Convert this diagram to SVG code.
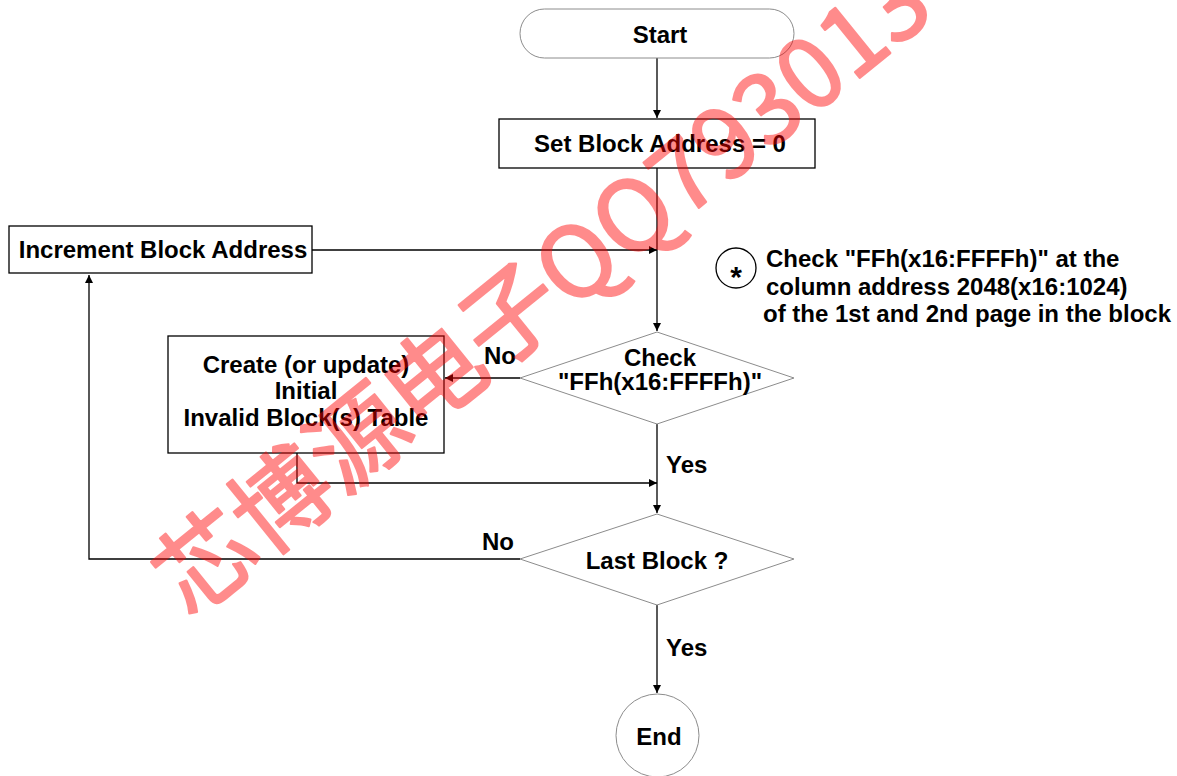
<svg xmlns="http://www.w3.org/2000/svg" width="1177" height="776" viewBox="0 0 1177 776">
  <style>
    .box { fill: #fff; stroke: #000; stroke-width: 1.3; }
    .soft { fill: #fff; stroke: #8c8c8c; stroke-width: 1; }
    .lbl { font-family: "Liberation Sans", Arial, sans-serif; font-weight: bold; font-size: 24px; fill: #000; }
    .mid { text-anchor: middle; }
    .wire { fill: none; stroke: #000; stroke-width: 1.3; }
    .mark { font-family: "Noto Sans CJK SC", "Liberation Sans", sans-serif; font-weight: normal; font-size: 98px; fill: #ff0000; stroke: #ff0000; stroke-width: 2.2; stroke-linejoin: round; }
  </style>
  <defs>
    <marker id="arrow" viewBox="0 0 10 10" refX="10" refY="5" markerWidth="8" markerHeight="8" markerUnits="userSpaceOnUse" orient="auto">
      <path d="M0,0 L10,5 L0,10 Z" fill="#000"/>
    </marker>
  </defs>
  <rect width="1177" height="776" fill="#fff"/>

  <!-- connectors -->
  <g id="connectors">
    <line class="wire" x1="657" y1="58" x2="657" y2="118" marker-end="url(#arrow)"/>
    <line class="wire" x1="657" y1="168" x2="657" y2="331" marker-end="url(#arrow)"/>
    <line class="wire" x1="312" y1="250" x2="657" y2="250" marker-end="url(#arrow)"/>
    <line class="wire" x1="520" y1="378" x2="445" y2="378" marker-end="url(#arrow)"/>
    <polyline class="wire" points="297,453 297,483 657,483" marker-end="url(#arrow)"/>
    <line class="wire" x1="657" y1="424" x2="657" y2="513" marker-end="url(#arrow)"/>
    <polyline class="wire" points="520,559 89,559 89,275" marker-end="url(#arrow)"/>
    <line class="wire" x1="657" y1="605" x2="657" y2="693" marker-end="url(#arrow)"/>
    <text class="lbl" x="484" y="364">No</text>
    <text class="lbl" x="666" y="473">Yes</text>
    <text class="lbl" x="482" y="550">No</text>
    <text class="lbl" x="666" y="656">Yes</text>
  </g>

  <!-- nodes -->
  <g id="start">
    <rect class="soft" x="520" y="9" width="274" height="49" rx="24.5" ry="24.5"/>
    <text class="lbl mid" x="660" y="43">Start</text>
  </g>
  <g id="set-address">
    <rect class="box" x="499" y="119" width="316" height="49"/>
    <text class="lbl mid" x="660" y="152">Set Block Address = 0</text>
  </g>
  <g id="increment">
    <rect class="box" x="9" y="226" width="303" height="47"/>
    <text class="lbl mid" x="163" y="258">Increment Block Address</text>
  </g>
  <g id="note">
    <circle cx="736" cy="268" r="20" fill="#fff" stroke="#000" stroke-width="1.3"/>
    <text class="lbl mid" x="736" y="287" style="font-size:30px">*</text>
    <text class="lbl" x="766" y="267">Check "FFh(x16:FFFFh)" at the</text>
    <text class="lbl" x="766" y="295">column address 2048(x16:1024)</text>
    <text class="lbl" x="763" y="322">of the 1st and 2nd page in the block</text>
  </g>
  <g id="check-ff">
    <polygon class="soft" points="657,332 794,378 657,424 520,378"/>
    <text class="lbl mid" x="660" y="366">Check</text>
    <text class="lbl mid" x="660" y="390">"FFh(x16:FFFFh)"</text>
  </g>
  <g id="invalid-table">
    <rect class="box" x="168" y="336" width="276" height="117"/>
    <text class="lbl mid" x="306" y="373">Create (or update)</text>
    <text class="lbl mid" x="306" y="399">Initial</text>
    <text class="lbl mid" x="306" y="426">Invalid Block(s) Table</text>
  </g>
  <g id="last-block">
    <polygon class="soft" points="657,514 794,559 657,605 520,559"/>
    <text class="lbl mid" x="657" y="569">Last Block ?</text>
  </g>
  <g id="end">
    <circle class="soft" cx="657.5" cy="735.5" r="41.5"/>
    <text class="lbl mid" x="659" y="745">End</text>
  </g>

  <!-- overprinted stamp, translucent as a whole -->
  <g opacity="0.45">
    <text class="mark" x="190" y="620" transform="rotate(-39 190 620)">芯博源电子QQ793013</text>
  </g>
</svg>
